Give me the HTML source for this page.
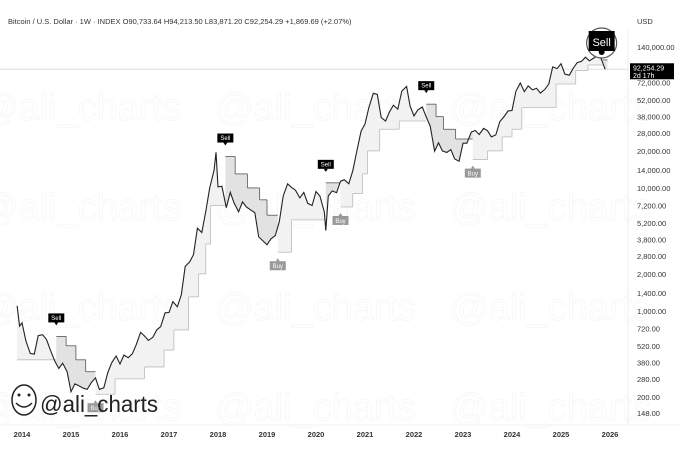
<!DOCTYPE html>
<html><head><meta charset="utf-8">
<style>
html,body{margin:0;padding:0;background:#fff;width:680px;height:472px;overflow:hidden;font-family:"Liberation Sans",sans-serif;}
svg{display:block}
</style></head>
<body>
<svg id="chart" width="680" height="472" xmlns="http://www.w3.org/2000/svg">
<g id="wm" fill="none" stroke="#f5f5f5" stroke-width="0.7" font-size="38" font-family="Liberation Sans, sans-serif"></g>
<text x="8" y="24" font-size="7.5" fill="#333">Bitcoin / U.S. Dollar · 1W · INDEX  O90,733.64  H94,213.50  L83,871.20  C92,254.29  +1,869.69 (+2.07%)</text>
<text x="637" y="24" font-size="7.5" fill="#333">USD</text>
<line x1="628" y1="30" x2="628" y2="425" stroke="#eee"/>
<line x1="0" y1="425" x2="680" y2="425" stroke="#f2f2f2"/>
<g id="yax"></g>
<g id="xax"></g>
<g id="plot"></g>
<g>
<ellipse cx="24" cy="400" rx="12" ry="15" fill="#fff" stroke="#222" stroke-width="1.5"/>
<path d="M16 403 q8 8 16 0" stroke="#222" fill="none" stroke-width="1.5"/>
<circle cx="19" cy="395" r="1.5" fill="#222"/><circle cx="29" cy="395" r="1.5" fill="#222"/>
<text x="40" y="412" font-size="23" fill="#222" textLength="118" lengthAdjust="spacingAndGlyphs">@ali_charts</text>
</g>
</svg>
<script>
const years=[2014,2015,2016,2017,2018,2019,2020,2021,2022,2023,2024,2025,2026];
const priceTicks=[140000,72000,52000,38000,28000,20000,14000,10000,7200,5200,3800,2800,2000,1400,1000,720,520,380,280,200,148];
const dates=[2013.9,2013.95,2014.0,2014.08,2014.17,2014.25,2014.33,2014.42,2014.5,2014.58,2014.67,2014.75,2014.83,2014.92,
2015.0,2015.08,2015.17,2015.25,2015.33,2015.42,2015.5,2015.58,2015.67,2015.75,2015.83,2015.92,
2016.0,2016.08,2016.17,2016.25,2016.33,2016.42,2016.5,2016.58,2016.67,2016.75,2016.83,2016.92,
2017.0,2017.08,2017.17,2017.25,2017.33,2017.42,2017.5,2017.58,2017.67,2017.75,2017.83,2017.92,2017.96,
2018.0,2018.08,2018.17,2018.25,2018.33,2018.42,2018.5,2018.58,2018.67,2018.75,2018.83,2018.92,
2019.0,2019.08,2019.17,2019.25,2019.33,2019.42,2019.5,2019.58,2019.67,2019.75,2019.83,2019.92,
2020.0,2020.08,2020.17,2020.2,2020.25,2020.33,2020.42,2020.5,2020.58,2020.67,2020.75,2020.83,2020.92,
2021.0,2021.08,2021.17,2021.25,2021.33,2021.42,2021.5,2021.58,2021.67,2021.75,2021.85,2021.92,
2022.0,2022.08,2022.17,2022.25,2022.33,2022.42,2022.5,2022.58,2022.67,2022.75,2022.83,2022.92,
2023.0,2023.08,2023.17,2023.25,2023.33,2023.42,2023.5,2023.58,2023.67,2023.75,2023.83,2023.92,
2024.0,2024.08,2024.17,2024.25,2024.33,2024.42,2024.5,2024.58,2024.67,2024.75,2024.83,2024.92,
2025.0,2025.08,2025.17,2025.25,2025.33,2025.42,2025.5,2025.58,2025.67,2025.77,2025.83,2025.9];
const prices=[1100,750,800,570,450,445,630,640,585,480,390,340,375,320,
220,255,245,235,230,263,285,230,237,315,378,430,
370,437,416,448,530,670,625,575,610,700,745,965,
970,1190,1080,1350,2300,2500,2870,4700,4340,6450,10000,14000,19500,
10200,10300,6900,9200,7500,6400,7700,7000,6600,6300,4000,3700,
3450,3850,4100,5300,8600,10800,10100,9600,8300,9200,7500,7200,
9350,8600,6400,4500,8600,9450,9150,11350,11650,10800,13800,19700,29000,
33100,45200,58800,57700,37300,35000,41500,47100,43800,61300,67000,46300,
38500,43200,45500,37700,31800,19900,23300,20000,19400,20500,17200,16500,
23100,23100,28500,29300,27200,30500,29200,26000,27000,34600,37700,42300,
42600,61100,71300,60600,67500,62700,64600,59000,63300,70200,96400,93400,
102400,84300,82500,94200,104600,107100,115700,108200,114000,124000,109500,92254];
const trendDates=[2013.9,2014.7,2014.9,2015.1,2015.3,2015.5,2015.9,2016.5,2016.9,2017.1,2017.4,2017.6,2017.75,2017.85,2018.15,2018.35,2018.6,2018.85,2019.0,2019.22,2019.5,2020.2,2020.5,2020.75,2020.95,2021.05,2021.3,2021.7,2022.25,2022.45,2022.6,2022.85,2023.2,2023.5,2023.8,2024.0,2024.2,2024.9,2025.3,2025.55,2025.85,2025.95];
const trendValues=[400,620,520,400,320,210,280,350,480,700,1300,2000,3500,7200,18000,13000,10000,8000,6000,3000,5500,11000,7000,9000,13000,20000,30000,35000,48000,38000,30000,25000,17000,20000,26000,30000,45000,70000,90000,100000,110000,110000];
const trendDir=[1,-1,-1,-1,-1,1,1,1,1,1,1,1,1,1,-1,-1,-1,-1,-1,1,1,-1,1,1,1,1,1,1,-1,-1,-1,-1,1,1,1,1,1,1,1,1,-1,-1];
const signalDates=[2014.7,2015.5,2018.15,2019.22,2020.2,2020.5,2022.25,2023.2,2025.85];
const signalTypes=["Sell","Buy","Sell","Buy","Sell","Buy","Sell","Buy","Sell"];
const lastPrice=92254.29;

const NS="http://www.w3.org/2000/svg";
const X=t=>22+49*(t-2014);
const Y=v=>47+53.4*Math.log(140000/v);
function mk(tag,attrs,parent){const e=document.createElementNS(NS,tag);for(const k in attrs)e.setAttribute(k,attrs[k]);parent.appendChild(e);return e;}
function priceAt(t){if(t<=dates[0])return prices[0];for(let i=1;i<dates.length;i++){if(t<=dates[i]){const f=(t-dates[i-1])/(dates[i]-dates[i-1]);return Math.exp(Math.log(prices[i-1])*(1-f)+Math.log(prices[i])*f);}}return prices[prices.length-1];}

const wm=document.getElementById('wm');
for(let r=0;r<4;r++)for(let c=0;c<3;c++){
 const t=mk('text',{x:-20+c*235,y:120+r*100},wm);
 
 
 t.textContent='@ali_charts';
}
const yax=document.getElementById('yax');
priceTicks.forEach(v=>{const t=mk('text',{x:637,y:Y(v)+3,'font-size':7.5,fill:'#333'},yax);
 
 
 t.textContent=v.toLocaleString('en-US',{minimumFractionDigits:2});});
const xax=document.getElementById('xax');
years.forEach(y=>{const t=mk('text',{x:X(y),y:437,'font-size':7.5,fill:'#333','text-anchor':'middle','font-weight':'bold'},xax);
 
 
 t.textContent=y;});

const plot=document.getElementById('plot');
const pl=mk('line',{x1:0,x2:628,y1:Y(lastPrice),y2:Y(lastPrice),stroke:'#ddd','stroke-width':1},plot);


for(let i=0;i<trendDates.length-1;i++){
 const t0=trendDates[i],t1=trendDates[i+1],v=trendValues[i];
 let top=[],bot=[];
 for(let t=t0;t<=t1+1e-6;t+=0.01){top.push(X(t).toFixed(1)+','+Y(v).toFixed(1));bot.push(X(t).toFixed(1)+','+Y(priceAt(t)).toFixed(1));}
 const f=mk('polygon',{points:top.concat(bot.reverse()).join(' '),fill:trendDir[i]>0?'#f2f2f2':'#e2e2e2',stroke:'none'},plot);
 
 
 const l=mk('line',{x1:X(t0),x2:X(t1),y1:Y(v),y2:Y(v),stroke:trendDir[i]>0?'#bbb':'#555','stroke-width':0.8},plot);
 
 
 if(i<trendDates.length-2 && trendDir[i]===trendDir[i+1]){
  const c=mk('line',{x1:X(t1),x2:X(t1),y1:Y(v),y2:Y(trendValues[i+1]),stroke:trendDir[i]>0?'#bbb':'#555','stroke-width':0.8},plot);
  
  
 }
}
const pth=mk('polyline',{points:dates.map((d,i)=>X(d).toFixed(1)+','+Y(prices[i]).toFixed(1)).join(' '),fill:'none',stroke:'#222','stroke-width':1.1},plot);


signalDates.forEach((d,i)=>{
 const type=signalTypes[i];const last=i===signalDates.length-1;
 const g=mk('g',{},plot);
 
 
 const x=X(d);
 if(last){
  mk('circle',{cx:x-1,cy:43,r:15,fill:'#fff',stroke:'#555','stroke-width':1.2},g);
  mk('rect',{x:x-14,y:31,width:26,height:20,fill:'#000'},g);
  mk('circle',{cx:x-1,cy:52,r:3,fill:'#000'},g);
  const t=mk('text',{x:x-1,y:46,'font-size':11,fill:'#fff','text-anchor':'middle'},g);t.textContent=type;
 } else if(type==='Sell'){
  const y=Math.min(Y(priceAt(d)),Y(trendValues[trendDates.indexOf(d)]))-14;
  mk('rect',{x:x-8,y:y-9,width:16,height:9,fill:'#000'},g);
  mk('path',{d:`M${x-2} ${y} L${x} ${y+3} L${x+2} ${y}Z`,fill:'#000'},g);
  const t=mk('text',{x:x,y:y-2.5,'font-size':6,fill:'#fff','text-anchor':'middle'},g);t.textContent=type;
 } else {
  const y=Y(trendValues[trendDates.indexOf(d)])+6;
  mk('path',{d:`M${x-2} ${y+3} L${x} ${y} L${x+2} ${y+3}Z`,fill:'#999'},g);
  mk('rect',{x:x-8,y:y+3,width:16,height:9,fill:'#999'},g);
  const t=mk('text',{x:x,y:y+10,'font-size':6,fill:'#fff','text-anchor':'middle'},g);t.textContent=type;
 }
});
const tag=mk('g',{},plot);


mk('rect',{x:630,y:Y(lastPrice)-6,width:44,height:16,fill:'#000'},tag);
const t1=mk('text',{x:633,y:Y(lastPrice)+1,'font-size':7,fill:'#fff'},tag);t1.textContent='92,254.29';
const t2=mk('text',{x:633,y:Y(lastPrice)+8.5,'font-size':7,fill:'#fff'},tag);t2.textContent='2d 17h';
</script>
</body></html>
